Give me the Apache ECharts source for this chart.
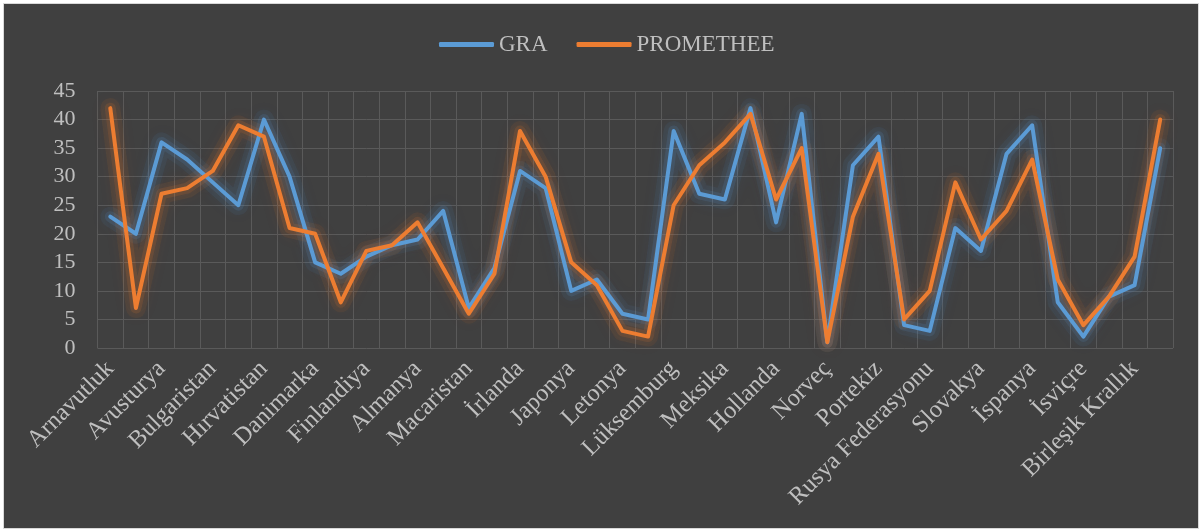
<!DOCTYPE html>
<html lang="tr">
<head>
    <meta charset="UTF-8">
    <title>GRA / PROMETHEE</title>
    <script src="https://cdn.jsdelivr.net/npm/echarts@6/dist/echarts.min.js"></script>
    <style>
        html, body { margin: 0; padding: 0; background: #ffffff; }
        #main {
            position: absolute; left: 3px; top: 3px;
            width: 1194px; height: 524px;
            border: 1px solid #d9d9d9;
            background: #404040;
        }
    </style>
</head>
<body>
<div id="main"></div>
<script type="text/javascript">
    // ülkeler (etiketler her iki kategoride bir görünüyor)
    var ulkeler = ["Arnavutluk", "Avustralya", "Avusturya", "Belçika", "Bulgaristan", "Kanada",
        "Hırvatistan", "Çek Cumhuriyeti", "Danimarka", "Estonya", "Finlandiya", "Fransa",
        "Almanya", "Yunanistan", "Macaristan", "İzlanda", "İrlanda", "İtalya", "Japonya", "Kore",
        "Letonya", "Litvanya", "Lüksemburg", "Malta", "Meksika", "Karadağ", "Hollanda",
        "Yeni Zelanda", "Norveç", "Polonya", "Portekiz", "Romanya", "Rusya Federasyonu",
        "Sırbistan", "Slovakya", "Slovenya", "İspanya", "İsveç", "İsviçre", "Türkiye",
        "Birleşik Krallık", "Amerika Birleşik Devletleri"];
    var gra = [23, 20, 36, 33, 29, 25, 40, 30, 15, 13, 16, 18, 19, 24, 7, 14, 31, 28, 10, 12, 6,
        5, 38, 27, 26, 42, 22, 41, 1, 32, 37, 4, 3, 21, 17, 34, 39, 8, 2, 9, 11, 35];
    var promethee = [42, 7, 27, 28, 31, 39, 37, 21, 20, 8, 17, 18, 22, 14, 6, 13, 38, 30, 15, 11, 3,
        2, 25, 32, 36, 41, 26, 35, 1, 23, 34, 5, 10, 29, 19, 24, 33, 12, 4, 9, 16, 40];
    var yTicks = [0, 5, 10, 15, 20, 25, 30, 35, 40, 45];

    var font = '"Liberation Serif", "Times New Roman", serif';
    var gridColor = '#5a5a5a';

    // yumuşak parlama (glow): alttaki geniş saydam çizgiler
    function glow(name, data, rgb, width, alpha) {
        return {
            name: name + '-glow' + width,
            type: 'line',
            data: data,
            showSymbol: false,
            silent: true,
            z: 1,
            lineStyle: {
                width: width, color: 'rgba(' + rgb + ',' + alpha + ')', cap: 'round', join: 'round',
                shadowBlur: 16, shadowColor: 'rgba(' + rgb + ',0.5)'
            }
        };
    }

    var myChart = echarts.init(document.getElementById('main'));
    myChart.setOption({
        animation: false,
        legend: {
            left: 430,
            top: 24,
            itemWidth: 55,
            itemHeight: 5,
            itemGap: 29,
            icon: 'roundRect',
            textStyle: { color: '#bfbfbf', fontFamily: font, fontSize: 23 },
            data: ['GRA', 'PROMETHEE']
        },
        grid: { left: 93.5, right: 25, top: 87, bottom: 180 },
        xAxis: {
            type: 'category',
            data: ulkeler,
            boundaryGap: true,
            axisLine: { show: false },
            axisTick: { show: false },
            axisLabel: {
                interval: 1,
                rotate: 45,
                margin: 17,
                color: '#bfbfbf',
                fontFamily: font,
                fontSize: 24.5
            },
            splitLine: { show: true, interval: 0, lineStyle: { color: gridColor, width: 1 } }
        },
        yAxis: {
            type: 'value',
            min: yTicks[0],
            max: yTicks[yTicks.length - 1],
            interval: 5,
            axisLine: { show: false },
            axisTick: { show: false },
            axisLabel: { margin: 22, color: '#bfbfbf', fontFamily: font, fontSize: 22 },
            splitLine: { lineStyle: { color: gridColor, width: 1 } }
        },
        series: [
            glow('GRA', gra, '91,155,213', 20, 0.07),
            glow('PROMETHEE', promethee, '237,125,49', 20, 0.07),
            glow('GRA', gra, '91,155,213', 11, 0.13),
            glow('PROMETHEE', promethee, '237,125,49', 11, 0.13),
            {
                name: 'GRA',
                type: 'line',
                data: gra,
                showSymbol: false,
                z: 3,
                color: '#5b9bd5',
                lineStyle: { width: 4, color: '#5b9bd5', cap: 'round', join: 'round' }
            }, {
                name: 'PROMETHEE',
                type: 'line',
                data: promethee,
                showSymbol: false,
                z: 4,
                color: '#ed7d31',
                lineStyle: { width: 4, color: '#ed7d31', cap: 'round', join: 'round' }
            }]
    });
</script>
</body>
</html>
